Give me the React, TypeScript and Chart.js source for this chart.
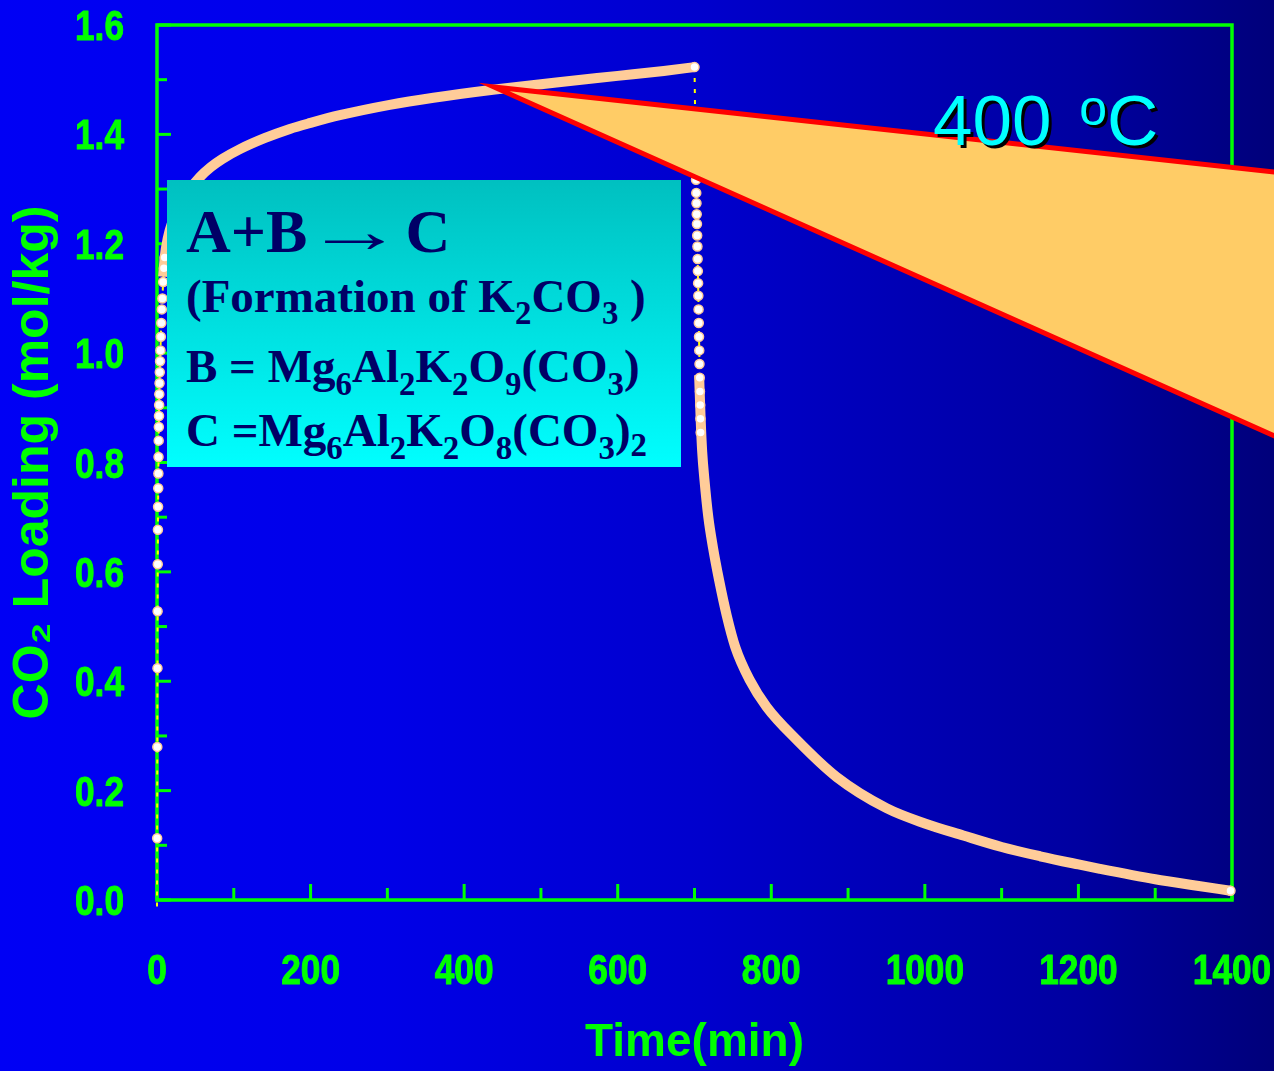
import React, { useEffect, useRef } from 'react';
import { Chart, registerables } from 'chart.js';

Chart.register(...registerables);

// ---------- data ----------
// sparse points of the fast rise right after CO2 is switched on (t ≈ 0)
const riseTime = [0, 0.2, 0.4, 0.6, 0.8, 1.0, 1.2, 1.4, 1.6, 1.8, 2.0, 2.2, 2.4, 2.6, 2.8, 3.0, 3.3, 3.6, 4.0, 4.5, 5.0, 5.6, 6.3, 7.0, 8.0, 9.0, 10.0];
const riseLoad = [-0.012, 0.113, 0.28, 0.424, 0.528, 0.614, 0.677, 0.719, 0.753, 0.78, 0.81, 0.84, 0.865, 0.885, 0.905, 0.925, 0.945, 0.965, 0.985, 1.005, 1.03, 1.055, 1.08, 1.1, 1.13, 1.155, 1.175];

// dense adsorption branch
const adsTime = [8, 10, 14, 20, 30, 42, 56, 70, 85, 108, 140, 173, 200, 238, 303, 360, 440, 520, 600, 660, 700];
const adsLoad = [1.14, 1.175, 1.21, 1.24, 1.27, 1.298, 1.322, 1.34, 1.355, 1.373, 1.393, 1.41, 1.421, 1.435, 1.454, 1.467, 1.482, 1.495, 1.507, 1.516, 1.523];

// sparse points of the fast drop after switching to purge (t ≈ 700)
const dropTime = [700, 701, 701.5, 702, 702.3, 702.6, 702.9, 703.2, 703.5, 703.8, 704.1, 704.4, 704.7, 705, 705.3, 705.6, 705.9, 706.2, 706.5, 706.8, 707.1, 707.4, 707.7, 708];
const dropLoad = [1.523, 1.42, 1.36, 1.317, 1.293, 1.274, 1.254, 1.236, 1.215, 1.195, 1.172, 1.15, 1.128, 1.105, 1.08, 1.055, 1.03, 1.005, 0.98, 0.955, 0.93, 0.905, 0.88, 0.855];

// dense desorption branch
const desTime = [706, 708, 710, 713, 718, 724, 732, 742, 753, 772, 794, 833, 885, 950, 1000, 1050, 1100, 1150, 1200, 1228, 1300, 1350, 1398];
const desLoad = [0.96, 0.88, 0.82, 0.768, 0.7, 0.645, 0.585, 0.52, 0.463, 0.402, 0.353, 0.293, 0.225, 0.168, 0.14, 0.118, 0.097, 0.08, 0.065, 0.057, 0.038, 0.027, 0.017];

// last recorded point
const endTime = [1398];
const endLoad = [0.017];

const xTicks = [0, 200, 400, 600, 800, 1000, 1200, 1400];
const yTicks = [0, 0.2, 0.4, 0.6, 0.8, 1.0, 1.2, 1.4, 1.6];

// ---------- styles ----------
const GREEN = '#00FF00';
const PEACH = '#FFCC99';
const SANS = "'Liberation Sans', Arial, sans-serif";
const SERIF = "'Liberation Serif', 'Times New Roman', serif";

const pts = (xs: number[], ys: number[]) => xs.map((x, i) => ({ x, y: ys[i] }));

const framePlugin = {
  id: 'frame',
  beforeDatasetsDraw(chart: any) {
    const { ctx, chartArea: a, scales } = chart;
    const xs = scales.x;
    const ys = scales.y;
    ctx.save();
    ctx.strokeStyle = GREEN;
    ctx.lineWidth = 3.5;
    ctx.lineCap = 'square';
    ctx.strokeRect(a.left, a.top, a.right - a.left, a.bottom - a.top);
    ctx.lineWidth = 3;
    ctx.lineCap = 'butt';
    // y ticks, every 0.1, inward
    for (let i = 0; i <= 16; i++) {
      const p = ys.getPixelForValue(i / 10);
      const len = i % 2 === 0 ? 14 : 10;
      ctx.beginPath();
      ctx.moveTo(a.left, p);
      ctx.lineTo(a.left + len, p);
      ctx.stroke();
    }
    // x ticks, every 100, inward
    for (let i = 0; i <= 14; i++) {
      const p = xs.getPixelForValue(i * 100);
      const len = i % 2 === 0 ? 16 : 12;
      ctx.beginPath();
      ctx.moveTo(p, a.bottom);
      ctx.lineTo(p, a.bottom - len);
      ctx.stroke();
    }
    // tick labels (condensed heavy sans, as in the reference)
    ctx.fillStyle = GREEN;
    ctx.strokeStyle = GREEN;
    ctx.lineWidth = 1;
    ctx.lineJoin = 'round';
    ctx.font = `bold 43px ${SANS}`;
    ctx.textBaseline = 'alphabetic';
    const label = (txt: string, x: number, y: number, align: string) => {
      ctx.save();
      ctx.translate(x, y);
      ctx.scale(0.82, 1);
      ctx.textAlign = align;
      ctx.fillText(txt, 0, 0);
      ctx.strokeText(txt, 0, 0);
      ctx.restore();
    };
    xs.ticks.forEach((t: any) => {
      label(String(t.value), xs.getPixelForValue(t.value), a.bottom + 84, 'center');
    });
    ys.ticks.forEach((t: any) => {
      label(Number(t.value).toFixed(1), a.left - 33, ys.getPixelForValue(t.value) + 15, 'right');
    });
    ctx.restore();
  },
  afterDatasetsDraw(chart: any) {
    const { ctx } = chart;
    const W = chart.width;
    const apexX = 494;
    const apexY = 87;
    const topSlope = 0.109;
    const botSlope = 0.447;
    const ex = W + 20;
    ctx.save();
    ctx.beginPath();
    ctx.moveTo(apexX, apexY);
    ctx.lineTo(ex, apexY + (ex - apexX) * topSlope);
    ctx.lineTo(ex, apexY + (ex - apexX) * botSlope);
    ctx.closePath();
    ctx.fillStyle = '#FFCC66';
    ctx.fill();
    ctx.beginPath();
    ctx.moveTo(ex, apexY + (ex - apexX) * topSlope);
    ctx.lineTo(apexX, apexY);
    ctx.lineTo(ex, apexY + (ex - apexX) * botSlope);
    ctx.strokeStyle = '#FF0000';
    ctx.lineWidth = 5;
    ctx.lineJoin = 'miter';
    ctx.stroke();
    ctx.restore();
  },
};

const Sub = ({ children, shift = 12 }: { children: any; shift?: number }) => (
  <span style={{ fontSize: '0.7em', verticalAlign: `-${shift}px`, lineHeight: 1 }}>{children}</span>
);

export default function App() {
  const ref = useRef<HTMLCanvasElement>(null);

  useEffect(() => {
    const sparseRise = pts(riseTime, riseLoad);
    const sparseDrop = pts(dropTime, dropLoad);
    const dashData = [...sparseRise, { x: 350, y: null as any }, ...sparseDrop];
    const dotData = [...sparseRise.slice(1), ...sparseDrop, ...pts(endTime, endLoad)];

    const chart = new Chart(ref.current as HTMLCanvasElement, {
      type: 'scatter',
      data: {
        datasets: [
          {
            label: 'points',
            data: dotData,
            showLine: false,
            pointRadius: 4.5,
            pointBackgroundColor: '#FFFFFF',
            pointBorderColor: PEACH,
            pointBorderWidth: 1.5,
            clip: false,
          } as any,
          {
            label: 'adsorption',
            data: pts(adsTime, adsLoad),
            showLine: true,
            borderColor: PEACH,
            borderWidth: 10,
            pointRadius: 0,
            cubicInterpolationMode: 'monotone',
            clip: false,
          } as any,
          {
            label: 'desorption',
            data: pts(desTime, desLoad),
            showLine: true,
            borderColor: PEACH,
            borderWidth: 10,
            pointRadius: 0,
            cubicInterpolationMode: 'monotone',
            clip: false,
          } as any,
          {
            label: 'connect',
            data: dashData,
            showLine: true,
            spanGaps: false,
            borderColor: '#FFFF00',
            borderWidth: 2,
            borderDash: [4, 7],
            pointRadius: 0,
            clip: false,
          } as any,
        ],
      },
      options: {
        animation: false,
        responsive: false,
        maintainAspectRatio: false,
        layout: { padding: { top: 25, right: 42, left: 0, bottom: 0 } },
        plugins: {
          legend: { display: false },
          tooltip: { enabled: false },
        },
        scales: {
          x: {
            type: 'linear',
            min: 0,
            max: 1400,
            afterFit: (s: any) => {
              s.height = 171;
              s.paddingLeft = 0;
              s.paddingRight = 0;
            },
            afterBuildTicks: (s: any) => {
              s.ticks = xTicks.map((v) => ({ value: v }));
            },
            grid: { display: false, drawTicks: false, tickLength: 0 },
            border: { display: false },
            ticks: { display: false },
            title: {
              display: true,
              text: 'Time(min)',
              color: GREEN,
              padding: { top: 0, bottom: 0 },
              font: { family: SANS, size: 46, weight: 'bold' },
            },
          },
          y: {
            type: 'linear',
            min: 0,
            max: 1.6,
            afterFit: (s: any) => {
              s.width = 157;
              s.paddingTop = 0;
              s.paddingBottom = 0;
            },
            afterBuildTicks: (s: any) => {
              s.ticks = yTicks.map((v) => ({ value: v }));
            },
            grid: { display: false, drawTicks: false, tickLength: 0 },
            border: { display: false },
            ticks: { display: false },
            title: {
              display: true,
              text: 'CO₂ Loading (mol/kg)',
              color: GREEN,
              padding: { top: 4, bottom: 0 },
              font: { family: SANS, size: 50, weight: 'bold' },
            },
          },
        },
      },
      plugins: [framePlugin],
    } as any);
    return () => chart.destroy();
  }, []);

  const line = (top: number, size: number, content: any) => (
    <div
      style={{
        position: 'absolute',
        left: 19,
        top: top - 180,
        fontFamily: SERIF,
        fontWeight: 'bold',
        fontSize: size,
        lineHeight: 1,
        color: '#000066',
        whiteSpace: 'nowrap',
      }}
    >
      {content}
    </div>
  );

  return (
    <div
      style={{
        position: 'fixed',
        left: 0,
        top: 0,
        width: 1274,
        height: 1071,
        overflow: 'hidden',
        background:
          'linear-gradient(to right, rgb(0,0,245) 0%, rgb(0,0,232) 30%, rgb(0,0,205) 55%, rgb(0,0,182) 70%, rgb(0,0,160) 85%, rgb(0,0,122) 100%)',
      }}
    >
      <canvas
        ref={ref}
        width={1274}
        height={1071}
        style={{ position: 'absolute', left: 0, top: 0, width: 1274, height: 1071 }}
      />
      <div
        style={{
          position: 'absolute',
          left: 167,
          top: 180,
          width: 514,
          height: 287,
          background: 'linear-gradient(to bottom, #00C0C0 0%, #00FFFF 100%)',
        }}
      >
        {line(200, 62, (
          <span>
            A+B{' '}
            <span style={{ display: 'inline-block', transform: 'scaleX(1.6)', marginRight: 5 }}>→</span>{' '}C
          </span>
        ))}
        {line(273, 47, <span>(Formation of K<Sub>2</Sub>CO<Sub>3</Sub> )</span>)}
        {line(343, 47, <span>B = Mg<Sub shift={13}>6</Sub>Al<Sub shift={13}>2</Sub>K<Sub shift={13}>2</Sub>O<Sub shift={13}>9</Sub>(CO<Sub shift={13}>3</Sub>)</span>)}
        {line(407, 47, <span>C =Mg<Sub shift={13}>6</Sub>Al<Sub shift={13}>2</Sub>K<Sub shift={13}>2</Sub>O<Sub shift={13}>8</Sub>(CO<Sub shift={13}>3</Sub>)<Sub shift={10}>2</Sub></span>)}
      </div>
      <div
        style={{
          position: 'absolute',
          left: 933,
          top: 83,
          fontFamily: SANS,
          fontSize: 71,
          lineHeight: 1,
          color: '#00FFFF',
          whiteSpace: 'nowrap',
          textShadow: '3px 3px 0 #000000',
        }}
      >
        400 <span style={{ fontSize: 50, verticalAlign: 20, marginLeft: 8 }}>o</span>C
      </div>
    </div>
  );
}
